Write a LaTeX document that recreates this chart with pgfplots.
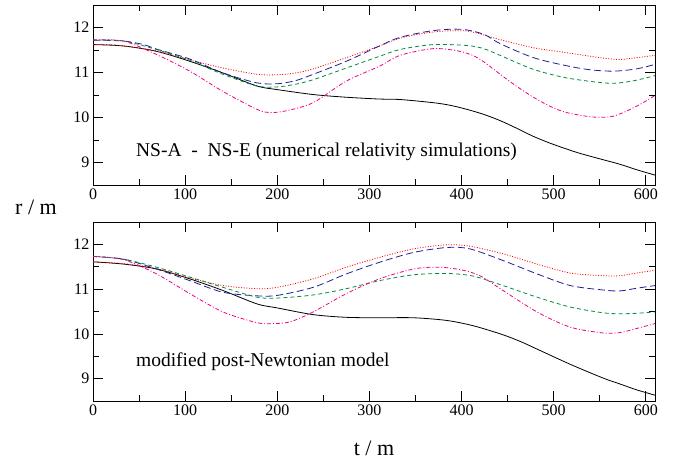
\documentclass[border=0pt]{standalone}
\usepackage{pgfplots}
\pgfplotsset{compat=1.18}
\usepackage{fontspec}
\setmainfont{Liberation Serif}
\definecolor{cblue}{RGB}{30,30,150}
\definecolor{cgreen}{RGB}{0,140,60}
\definecolor{cmag}{RGB}{240,0,130}
\pgfplotsset{
  myax/.style={
    scale only axis, width=562pt,
    xmin=0, xmax=610, ymin=8.5, ymax=12.5,
    xtick={0,100,...,600}, ytick={9,10,11,12},
    minor x tick num=1, minor y tick num=1,
    tick align=inside,
    major tick length=10pt, minor tick length=6pt,
    every tick/.style={black, line width=0.6pt},
    axis line style={line width=0.9pt},
    tick label style={font=\fontsize{16}{16}\selectfont},
    /pgf/number format/assume math mode=true,
    every axis plot/.append style={line width=0.8pt, smooth, tension=0.5, no markers},
    clip=true,
  },
  sblack/.style={black, solid},
  sred/.style={red, dash pattern=on 1pt off 1.6pt},
  sblue/.style={cblue, dash pattern=on 7pt off 3.5pt},
  sgreen/.style={cgreen, dash pattern=on 4pt off 3pt},
  smag/.style={cmag, dash pattern=on 4pt off 2pt on 1pt off 2pt},
}
\begin{document}
\begin{tikzpicture}
\useasboundingbox (0,0) rectangle (684pt,464pt);
\begin{axis}[myax, height=180pt, at={(93pt,279pt)}, anchor=south west]
\addplot[sblack] coordinates {(0,11.62)(33,11.59)(69,11.47)(105,11.25)(141,10.99)(178,10.70)(200,10.62)(239,10.51)(275,10.45)(311,10.41)(333,10.40)(369,10.33)(388,10.27)(406,10.18)(424,10.07)(442,9.93)(460,9.76)(478,9.58)(496,9.43)(514,9.30)(529,9.20)(554,9.06)(572,8.96)(590,8.84)(610,8.72)};
\addplot[sred] coordinates {(0,11.62)(15,11.62)(33,11.59)(69,11.48)(105,11.28)(141,11.10)(178,10.96)(200,10.95)(220,10.99)(239,11.08)(275,11.33)(311,11.59)(333,11.76)(369,11.90)(406,11.92)(442,11.73)(478,11.55)(514,11.44)(554,11.32)(572,11.29)(590,11.33)(610,11.38)};
\addplot[sblue] coordinates {(0,11.72)(33,11.70)(55,11.62)(69,11.52)(105,11.30)(141,10.99)(178,10.77)(200,10.75)(220,10.82)(239,10.96)(275,11.25)(311,11.59)(333,11.78)(369,11.93)(400,11.96)(424,11.85)(442,11.64)(478,11.33)(514,11.15)(540,11.06)(565,11.03)(590,11.08)(610,11.18)};
\addplot[sgreen] coordinates {(0,11.72)(33,11.70)(69,11.51)(105,11.27)(141,10.96)(178,10.70)(200,10.68)(220,10.74)(239,10.84)(275,11.10)(311,11.36)(333,11.51)(369,11.62)(406,11.60)(424,11.53)(442,11.38)(478,11.07)(514,10.88)(554,10.77)(572,10.77)(590,10.83)(610,10.93)};
\addplot[smag] coordinates {(0,11.72)(33,11.70)(69,11.40)(105,11.03)(141,10.58)(178,10.18)(192,10.11)(210,10.15)(239,10.33)(275,10.81)(311,11.14)(333,11.38)(369,11.53)(396,11.48)(412,11.38)(424,11.24)(442,10.96)(460,10.69)(478,10.45)(496,10.25)(514,10.11)(543,10.01)(565,10.03)(590,10.25)(610,10.49)};
\node[anchor=west, font=\fontsize{19.5}{19.5}\selectfont] at (axis cs:43,9.24) {NS-A\ \ -\ \ NS-E (numerical relativity simulations)};
\end{axis}
\begin{axis}[myax, height=179pt, at={(93pt,63pt)}, anchor=south west]
\addplot[sblack] coordinates {(0,11.61)(33,11.56)(69,11.45)(105,11.23)(141,10.97)(178,10.67)(200,10.58)(239,10.43)(275,10.37)(311,10.36)(348,10.36)(384,10.30)(413,10.18)(445,9.98)(465,9.82)(482,9.66)(518,9.32)(554,9.01)(572,8.88)(590,8.75)(610,8.63)};
\addplot[sred] coordinates {(0,11.61)(33,11.57)(69,11.46)(105,11.25)(141,11.08)(178,11.01)(200,11.04)(239,11.23)(275,11.49)(311,11.71)(348,11.90)(384,11.99)(409,11.96)(445,11.79)(482,11.56)(518,11.36)(554,11.30)(572,11.30)(590,11.36)(610,11.42)};
\addplot[sblue] coordinates {(0,11.73)(33,11.67)(69,11.45)(105,11.19)(141,10.93)(178,10.85)(200,10.86)(239,11.04)(275,11.34)(311,11.60)(348,11.82)(384,11.93)(409,11.90)(445,11.64)(482,11.34)(518,11.08)(554,10.98)(572,10.96)(590,11.02)(610,11.08)};
\addplot[sgreen] coordinates {(0,11.73)(33,11.67)(69,11.49)(105,11.27)(141,11.04)(178,10.82)(200,10.80)(239,10.87)(275,11.01)(311,11.19)(348,11.32)(384,11.35)(413,11.29)(445,11.08)(482,10.82)(518,10.60)(554,10.47)(572,10.45)(590,10.46)(610,10.49)};
\addplot[smag] coordinates {(0,11.73)(33,11.66)(69,11.34)(105,10.90)(141,10.49)(178,10.25)(195,10.23)(214,10.27)(239,10.49)(275,10.90)(311,11.23)(348,11.45)(375,11.49)(400,11.43)(420,11.30)(445,10.97)(482,10.49)(518,10.15)(554,10.02)(572,10.03)(590,10.12)(610,10.23)};
\node[anchor=west, font=\fontsize{19.5}{19.5}\selectfont] at (axis cs:43,9.37) {modified post-Newtonian model};
\end{axis}
\node[font=\fontsize{22}{22}\selectfont] at (36pt,257pt) {r / m};
\node[font=\fontsize{22}{22}\selectfont] at (374pt,16pt) {t / m};
\end{tikzpicture}
\end{document}
